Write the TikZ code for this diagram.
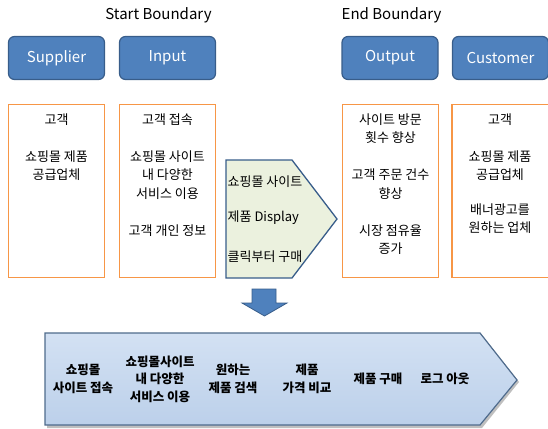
\documentclass[tikz,border=0pt]{standalone}
\usepackage{fontspec}
\setmainfont{Noto Sans CJK KR}
\definecolor{bluefill}{HTML}{4F81BD}
\definecolor{blueline}{HTML}{385D8A}
\definecolor{orangeline}{HTML}{F79646}
\definecolor{greenfill}{HTML}{EBF1DE}
\definecolor{chevtop}{HTML}{D3E1F3}
\definecolor{chevbot}{HTML}{BCD0EA}
\definecolor{chevline}{HTML}{4F6B8C}
\begin{document}
\begin{tikzpicture}[x=1pt,y=-1pt,
  hdr/.style={draw=blueline, fill=bluefill, rounded corners=6pt, line width=1.2pt,
    minimum width=96pt, minimum height=43pt, text=white, inner sep=0pt,
    font=\fontsize{15}{18}\selectfont},
  col/.style={draw=orangeline, line width=1.6pt, fill=white,
    minimum width=96pt, minimum height=173pt, inner sep=0pt},
  coltext/.style={font=\fontsize{13}{18.5}\selectfont, align=center, anchor=north, inner sep=0pt},
  titletext/.style={font=\fontsize{15}{18}\selectfont, inner sep=0pt},
  pentext/.style={font=\fontsize{13}{14}\selectfont, anchor=west, inner sep=0pt},
  chevtext/.style={font=\fontsize{12.5}{17.5}\selectfont\bfseries, align=center, inner sep=0pt}
]
\useasboundingbox (0,0) rectangle (548,428);

% titles
\node[titletext] (tstart) at (158.5,15) {Start Boundary};
\node[titletext] (tend) at (391.5,15) {End Boundary};

% header boxes
\node[hdr] (supplier) at (56.5,58) {Supplier};
\node[hdr] (input) at (167.5,58) {Input};
\node[hdr] (output) at (390,58) {Output};
\node[hdr] (customer) at (500.5,58) {Customer};

% orange columns
\node[col] (csup) at (56.5,191) {};
\node[col] (cin) at (167.5,191) {};
\node[col] (cout) at (390.5,191) {};
\node[col, minimum width=98pt] (ccus) at (501,191) {};

\node[coltext] (tsup) at (56.5,113.5) {고객\\[18.5pt]쇼핑몰 제품\\공급업체};
\node[coltext] (tin) at (167.5,113.5) {고객 접속\\[18.5pt]쇼핑몰 사이트\\내 다양한\\서비스 이용\\[18.5pt]고객 개인 정보};
\node[coltext] (tout) at (390.5,113.5) {사이트 방문\\횟수 향상\\[18.5pt]고객 주문 건수\\향상\\[18.5pt]시장 점유율\\증가};
\node[coltext] (tcus) at (500,113.5) {고객\\[18.5pt]쇼핑몰 제품\\공급업체\\[16pt]배너광고를\\원하는 업체};

% pentagon (process)
\draw[draw=blueline, fill=greenfill, line width=1.3pt]
  (226,160) -- (292,160) -- (337,219) -- (292,278) -- (226,278) -- cycle;
\node[pentext] (p1) at (227.5,182) {쇼핑몰 사이트};
\node[pentext] (p2) at (227.5,218) {제품 Display};
\node[pentext] (p3) at (227.5,257) {클릭부터 구매};

% down arrow
\draw[draw=blueline, fill=bluefill, line width=0.8pt]
  (252,289) -- (276,289) -- (276,303) -- (287,303) -- (264.5,316) -- (242,303) -- (252,303) -- cycle;

% chevron
\fill[black, opacity=0.25] (47,335) -- (482,335) -- (519,382) -- (482,428) -- (47,428) -- cycle;
\draw[draw=chevline, top color=chevtop, bottom color=chevbot, line width=1.2pt]
  (45,333) -- (480,333) -- (517,380) -- (480,425) -- (45,425) -- cycle;

\node[chevtext] (s1) at (83,379) {쇼핑몰\\사이트 접속};
\node[chevtext] (s2) at (160,379) {쇼핑몰사이트\\내 다양한\\서비스 이용};
\node[chevtext] (s3) at (233,379) {원하는\\제품 검색};
\node[chevtext] (s4) at (307,379) {제품\\가격 비교};
\node[chevtext] (s5) at (378,379) {제품 구매};
\node[chevtext] (s6) at (445,379) {로그 아웃};
\end{tikzpicture}
\end{document}
